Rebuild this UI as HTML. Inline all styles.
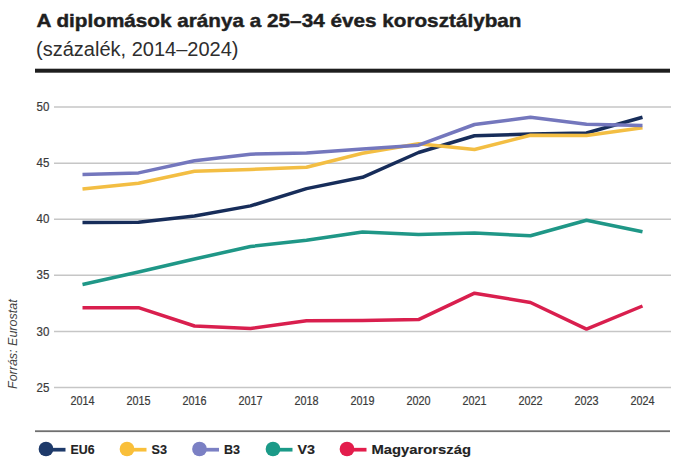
<!DOCTYPE html>
<html><head><meta charset="utf-8">
<style>
html,body{margin:0;padding:0;background:#fff;width:690px;height:469px;overflow:hidden}
body{position:relative;font-family:"Liberation Sans",sans-serif;color:#222}
svg{position:absolute;left:0;top:0;font-family:"Liberation Sans",sans-serif}
.title{font-size:19px;font-weight:bold;fill:#1f1f1f;stroke:#1f1f1f;stroke-width:0.45px}
.sub{font-size:20px;fill:#2e2e2e}
.ax{font-size:12px;fill:#3a3a3a;stroke:#3a3a3a;stroke-width:0.2px}
.lg{font-size:13px;font-weight:bold;fill:#222;stroke:#222;stroke-width:0.15px}
.src{font-size:12.5px;font-style:italic;fill:#444}
</style></head><body>
<svg width="690" height="469" viewBox="0 0 690 469">
<text x="36.5" y="27.2" class="title" textLength="485" lengthAdjust="spacingAndGlyphs">A diplomások aránya a 25–34 éves korosztályban</text>
<text x="36" y="55.8" class="sub" textLength="202.5" lengthAdjust="spacingAndGlyphs">(százalék, 2014–2024)</text>
<rect x="35" y="68.7" width="635" height="4" fill="#1e1e1e"/>
<line x1="54" y1="107.1" x2="671" y2="107.1" stroke="#c6c6c6" stroke-width="1.5"/><text x="49.3" y="111.2" text-anchor="end" class="ax" textLength="12.8" lengthAdjust="spacingAndGlyphs">50</text><line x1="54" y1="163.2" x2="671" y2="163.2" stroke="#c6c6c6" stroke-width="1.5"/><text x="49.3" y="167.3" text-anchor="end" class="ax" textLength="12.8" lengthAdjust="spacingAndGlyphs">45</text><line x1="54" y1="219.3" x2="671" y2="219.3" stroke="#c6c6c6" stroke-width="1.5"/><text x="49.3" y="223.4" text-anchor="end" class="ax" textLength="12.8" lengthAdjust="spacingAndGlyphs">40</text><line x1="54" y1="275.3" x2="671" y2="275.3" stroke="#c6c6c6" stroke-width="1.5"/><text x="49.3" y="279.4" text-anchor="end" class="ax" textLength="12.8" lengthAdjust="spacingAndGlyphs">35</text><line x1="54" y1="331.4" x2="671" y2="331.4" stroke="#c6c6c6" stroke-width="1.5"/><text x="49.3" y="335.5" text-anchor="end" class="ax" textLength="12.8" lengthAdjust="spacingAndGlyphs">30</text><line x1="54" y1="387.5" x2="671" y2="387.5" stroke="#c6c6c6" stroke-width="1.5"/><text x="49.3" y="391.6" text-anchor="end" class="ax" textLength="12.8" lengthAdjust="spacingAndGlyphs">25</text>
<text x="70.5" y="404.9" class="ax" textLength="24.1" lengthAdjust="spacingAndGlyphs">2014</text><text x="126.5" y="404.9" class="ax" textLength="24.1" lengthAdjust="spacingAndGlyphs">2015</text><text x="182.5" y="404.9" class="ax" textLength="24.1" lengthAdjust="spacingAndGlyphs">2016</text><text x="238.5" y="404.9" class="ax" textLength="24.1" lengthAdjust="spacingAndGlyphs">2017</text><text x="294.5" y="404.9" class="ax" textLength="24.1" lengthAdjust="spacingAndGlyphs">2018</text><text x="350.5" y="404.9" class="ax" textLength="24.1" lengthAdjust="spacingAndGlyphs">2019</text><text x="406.5" y="404.9" class="ax" textLength="24.1" lengthAdjust="spacingAndGlyphs">2020</text><text x="462.5" y="404.9" class="ax" textLength="24.1" lengthAdjust="spacingAndGlyphs">2021</text><text x="518.5" y="404.9" class="ax" textLength="24.1" lengthAdjust="spacingAndGlyphs">2022</text><text x="574.5" y="404.9" class="ax" textLength="24.1" lengthAdjust="spacingAndGlyphs">2023</text><text x="630.5" y="404.9" class="ax" textLength="24.1" lengthAdjust="spacingAndGlyphs">2024</text>
<polyline points="82.5,222.4 138.5,222.2 194.5,216.0 250.5,205.9 306.5,188.6 362.5,177.3 418.5,152.5 474.5,135.8 530.5,134.0 586.5,133.0 642.5,117.2" fill="none" stroke="#172d5a" stroke-width="3.5" stroke-linejoin="round" stroke-linecap="butt"/><polyline points="82.5,188.9 138.5,183.2 194.5,171.3 250.5,169.4 306.5,167.3 362.5,153.3 418.5,143.7 474.5,149.5 530.5,135.3 586.5,135.5 642.5,127.8" fill="none" stroke="#f3be43" stroke-width="3.5" stroke-linejoin="round" stroke-linecap="butt"/><polyline points="82.5,174.4 138.5,172.9 194.5,160.8 250.5,154.2 306.5,152.9 362.5,149.0 418.5,145.2 474.5,124.5 530.5,117.3 586.5,124.3 642.5,125.5" fill="none" stroke="#7477bd" stroke-width="3.5" stroke-linejoin="round" stroke-linecap="butt"/><polyline points="82.5,284.5 138.5,272.0 194.5,259.0 250.5,246.5 306.5,240.3 362.5,232.0 418.5,234.5 474.5,233.1 530.5,235.8 586.5,220.3 642.5,231.8" fill="none" stroke="#1f9787" stroke-width="3.5" stroke-linejoin="round" stroke-linecap="butt"/><polyline points="82.5,307.7 138.5,307.7 194.5,326.0 250.5,328.4 306.5,320.7 362.5,320.6 418.5,319.6 474.5,293.2 530.5,302.5 586.5,329.1 642.5,306.0" fill="none" stroke="#d91f4e" stroke-width="3.5" stroke-linejoin="round" stroke-linecap="butt"/>
<text class="src" transform="translate(17,389) rotate(-90)">Forrás: Eurostat</text>
<rect x="35" y="430.3" width="635" height="1.8" fill="#707070"/>
<circle cx="46" cy="449" r="7.35" fill="#1e3a6a"/><line x1="46" y1="449.7" x2="65.5" y2="449.7" stroke="#1e3a6a" stroke-width="3.7"/><text x="70.5" y="454.2" class="lg" textLength="24" lengthAdjust="spacingAndGlyphs">EU6</text><circle cx="127" cy="449" r="7.35" fill="#f9bf3a"/><line x1="127" y1="449.7" x2="146.5" y2="449.7" stroke="#f9bf3a" stroke-width="3.7"/><text x="151.5" y="454.2" class="lg" textLength="15.5" lengthAdjust="spacingAndGlyphs">S3</text><circle cx="199.5" cy="449" r="7.35" fill="#7b80c4"/><line x1="199.5" y1="449.7" x2="219.0" y2="449.7" stroke="#7b80c4" stroke-width="3.7"/><text x="224.0" y="454.2" class="lg" textLength="16" lengthAdjust="spacingAndGlyphs">B3</text><circle cx="273" cy="449" r="7.35" fill="#1b9a88"/><line x1="273" y1="449.7" x2="292.5" y2="449.7" stroke="#1b9a88" stroke-width="3.7"/><text x="297.5" y="454.2" class="lg" textLength="17.5" lengthAdjust="spacingAndGlyphs">V3</text><circle cx="347" cy="449" r="7.35" fill="#e31d4c"/><line x1="347" y1="449.7" x2="366.5" y2="449.7" stroke="#e31d4c" stroke-width="3.7"/><text x="371.5" y="454.2" class="lg" textLength="99.5" lengthAdjust="spacingAndGlyphs">Magyarország</text>
</svg>
</body></html>
